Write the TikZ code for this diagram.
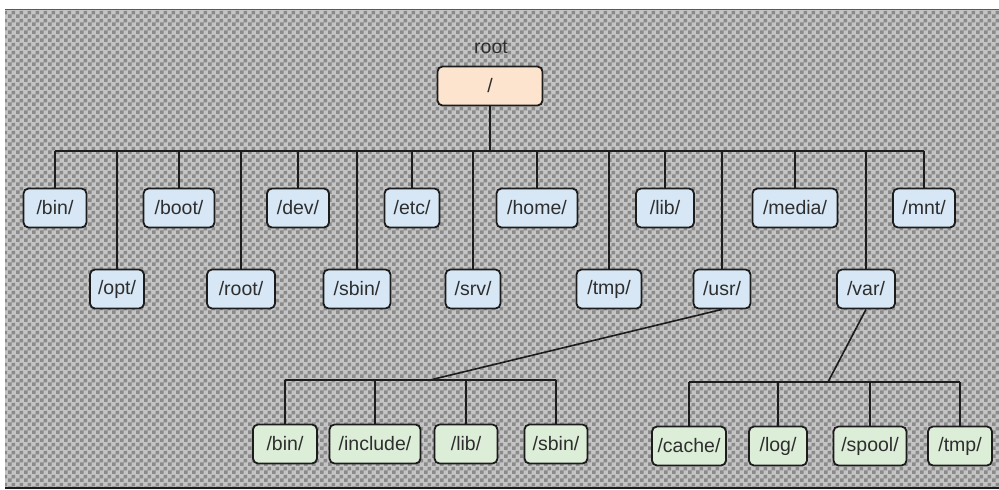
\documentclass[tikz,border=0pt]{standalone}
\usepackage{fontspec}
\setmainfont{Liberation Sans}
\usetikzlibrary{patterns}
\pgfdeclarepatternformonly{bigchecker}{\pgfqpoint{0pt}{0pt}}{\pgfqpoint{8pt}{8pt}}{\pgfqpoint{8pt}{8pt}}{%
  \pgfpathrectangle{\pgfqpoint{0pt}{0pt}}{\pgfqpoint{4pt}{4pt}}%
  \pgfpathrectangle{\pgfqpoint{4pt}{4pt}}{\pgfqpoint{4pt}{4pt}}%
  \pgfusepath{fill}}
\definecolor{chkdark}{HTML}{8A8A8A}
\definecolor{chklight}{HTML}{C4C4C4}
\definecolor{boxblue}{HTML}{D7E7F5}
\definecolor{boxpeach}{HTML}{FDE4CE}
\definecolor{boxgreen}{HTML}{DCEDD8}
\definecolor{linecol}{HTML}{1C1C1C}
\definecolor{txtcol}{HTML}{2E2E2E}
\tikzset{
  dirbox/.style={draw=linecol, line width=1.8pt, rounded corners=5pt,
    minimum height=39pt, inner sep=0pt, text=txtcol,
    font=\fontsize{19.5}{22}\selectfont},
  bluebox/.style={dirbox, fill=boxblue},
  greenbox/.style={dirbox, fill=boxgreen},
  peachbox/.style={dirbox, fill=boxpeach},
  conn/.style={draw=linecol, line width=1.6pt}
}
\begin{document}
\begin{tikzpicture}[x=1pt,y=-1pt]
\useasboundingbox (0,0) rectangle (999,490);
% background
\fill[chklight] (5,9) rectangle (999,488);
\fill[pattern=bigchecker, pattern color=chkdark] (5,9) rectangle (999,488);
\draw[gray!70!black, line width=1pt] (5,9) -- (999,9);
\draw[linecol, line width=1.2pt] (5,488) -- (999,488);

% root
\node[text=txtcol, font=\fontsize{19.5}{22}\selectfont] (rootlbl) at (491,47) {root};
\node[peachbox, minimum width=105pt] (rootn) at (490,86) {/};

% top level
\node[bluebox, minimum width=63pt] (bin) at (55,208) {/bin/};
\node[bluebox, minimum width=54pt] (opt) at (117,289) {/opt/};
\node[bluebox, minimum width=71pt] (boot) at (179,208) {/boot/};
\node[bluebox, minimum width=68pt] (rootd) at (241,289) {/root/};
\node[bluebox, minimum width=62pt] (dev) at (298,208) {/dev/};
\node[bluebox, minimum width=67pt] (sbin) at (357,289) {/sbin/};
\node[bluebox, minimum width=55pt] (etc) at (412,208) {/etc/};
\node[bluebox, minimum width=55pt] (srv) at (473,289) {/srv/};
\node[bluebox, minimum width=81pt] (home) at (537,208) {/home/};
\node[bluebox, minimum width=65pt] (tmp) at (609,289) {/tmp/};
\node[bluebox, minimum width=58pt] (lib) at (665,208) {/lib/};
\node[bluebox, minimum width=57pt] (usr) at (722,289) {/usr/};
\node[bluebox, minimum width=85pt] (media) at (795,208) {/media/};
\node[bluebox, minimum width=58pt] (var) at (866,289) {/var/};
\node[bluebox, minimum width=62pt] (mnt) at (924,208) {/mnt/};

\coordinate (bus) at (490,151);
\draw[conn] (rootn.south) -- (rootn.south |- bus);
\draw[conn] (bin.north |- bus) -- (mnt.north |- bus);
\foreach \n in {bin,opt,boot,rootd,dev,sbin,etc,srv,home,tmp,lib,usr,media,var,mnt}
  \draw[conn] (\n.north) -- (\n.north |- bus);

% /usr children
\node[greenbox, minimum width=64pt] (ubin) at (285,444) {/bin/};
\node[greenbox, minimum width=91pt] (uinc) at (375,444) {/include/};
\node[greenbox, minimum width=63pt] (ulib) at (466,444) {/lib/};
\node[greenbox, minimum width=63pt] (usbin) at (556,444) {/sbin/};
\coordinate (ubus) at (430,380);
\draw[conn] (usr.south) -- (ubus);
\draw[conn] (ubin.north |- ubus) -- (usbin.north |- ubus);
\foreach \n in {ubin,uinc,ulib,usbin}
  \draw[conn] (\n.north) -- (\n.north |- ubus);

% /var children
\node[greenbox, minimum width=74pt] (vcache) at (689,446) {/cache/};
\node[greenbox, minimum width=58pt] (vlog) at (778,446) {/log/};
\node[greenbox, minimum width=73pt] (vspool) at (870,446) {/spool/};
\node[greenbox, minimum width=64pt] (vtmp) at (960,446) {/tmp/};
\coordinate (vbus) at (828,382);
\draw[conn] (var.south) -- (vbus);
\draw[conn] (vcache.north |- vbus) -- (vtmp.north |- vbus);
\foreach \n in {vcache,vlog,vspool,vtmp}
  \draw[conn] (\n.north) -- (\n.north |- vbus);
\end{tikzpicture}
\end{document}
